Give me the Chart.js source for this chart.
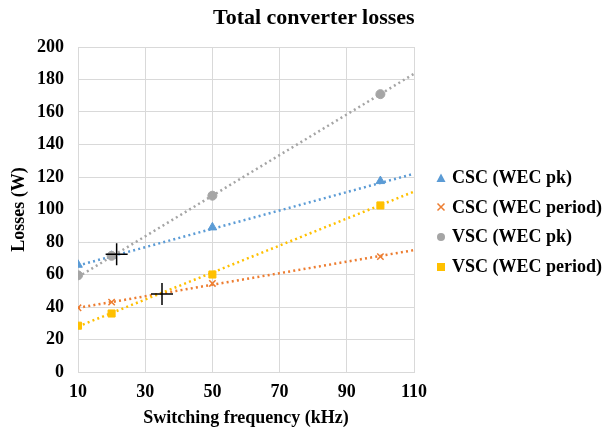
<!DOCTYPE html>
<html><head><meta charset="utf-8">
<script src="https://cdn.jsdelivr.net/npm/chart.js@4/dist/chart.umd.min.js"></script>
<style>
html,body{margin:0;padding:0;background:#fff;}
#wrap{position:relative;width:607px;height:433px;overflow:hidden;}
canvas{position:absolute;left:0;top:0;}
#title{position:absolute;left:213px;width:200px;top:4px;text-align:center;white-space:nowrap;font-family:"Liberation Serif","Times New Roman",serif;font-weight:bold;font-size:22px;color:#000;line-height:26px;}
#legend{position:absolute;left:436px;top:163px;font-family:"Liberation Serif","Times New Roman",serif;font-weight:bold;font-size:18px;color:#000;}
.li{height:29.6px;display:flex;align-items:center;white-space:nowrap;}
.li svg{margin-right:6px;}
</style></head>
<body><div id="wrap"><canvas id="c" width="607" height="433"></canvas><div id="title">Total converter losses</div><div id="legend"></div></div>
<script>
const freq = [10, 20, 50, 100];
const cscPk = [66, 71.5, 89, 117.5];
const cscPeriod = [39.5, 43, 54.5, 71];
const vscPk = [59.5, 71.5, 108.5, 171];
const vscPeriod = [28.5, 36, 60, 102.5];
const trendX = [10, 110];
const cscPkTrend = [65.5, 122];
const cscPeriodTrend = [39.5, 75];
const vscPkTrend = [58.5, 183.5];
const vscPeriodTrend = [28, 111];
const crossX = [21.5, 35];
const crossY = [72.5, 48];
const seriesNames = ["CSC (WEC pk)", "CSC (WEC period)", "VSC (WEC pk)", "VSC (WEC period)"];
const xTicks = [10, 30, 50, 70, 90, 110];

const colors = ["#5B9BD5", "#ED7D31", "#A5A5A5", "#FFC000"];
const styles = ["triangle", "crossRot", "circle", "rect"];
const radii = [5, 4.5, 4.5, 5];
const vals = [cscPk, cscPeriod, vscPk, vscPeriod];
const trends = [cscPkTrend, cscPeriodTrend, vscPkTrend, vscPeriodTrend];
const pts = (xs, ys) => xs.map((x, i) => ({x: x, y: ys[i]}));

const datasets = [];
trends.forEach((t, i) => datasets.push({
  type: 'line', data: pts(trendX, t), borderColor: colors[i], borderWidth: 2.5,
  borderDash: [2, 3.2], pointRadius: 0, fill: false, order: 10 - i
}));
vals.forEach((v, i) => datasets.push({
  type: 'scatter', label: seriesNames[i], data: pts(freq, v), pointStyle: styles[i],
  pointRadius: radii[i], backgroundColor: colors[i], borderColor: colors[i],
  borderWidth: i === 1 ? 1.5 : 1, order: 5 - i
}));
datasets.push({
  type: 'scatter', data: pts(crossX, crossY), pointStyle: 'cross', pointRadius: 11,
  borderColor: '#000', borderWidth: 1.5, order: 0
});

const F = "'Liberation Serif','Times New Roman',serif";
new Chart(document.getElementById('c'), {
  data: {datasets},
  options: {
    responsive: false, animation: false,
    layout: {padding: {left: 0, right: 193, top: 47, bottom: 0}},
    plugins: {legend: {display: false}, tooltip: {enabled: false}},
    scales: {
      x: {type: 'linear', min: 10, max: 110,
        afterBuildTicks: s => { s.ticks = xTicks.map(v => ({value: v})); },
        afterFit: s => { s.height = 61; },
        grid: {color: '#d9d9d9', drawTicks: false}, border: {color: '#d9d9d9'},
        ticks: {color: '#000', font: {family: F, size: 18, weight: 'bold'}, padding: 10, maxRotation: 0},
        title: {display: true, text: 'Switching frequency (kHz)', color: '#000',
          font: {family: F, size: 18, weight: 'bold'}, padding: {top: 0, bottom: 4}}
      },
      y: {min: 0, max: 200,
        afterFit: s => { s.width = 78; },
        ticks: {stepSize: 20, color: '#000', font: {family: F, size: 18, weight: 'bold'}, padding: 14},
        grid: {color: '#d9d9d9', drawTicks: false}, border: {color: '#d9d9d9'},
        title: {display: true, text: 'Losses (W)', color: '#000',
          font: {family: F, size: 18, weight: 'bold'}, padding: {top: 9, bottom: 0}}
      }
    }
  }
});

const leg = document.getElementById('legend');
const svgs = [
  '<svg width="10" height="10"><polygon points="5,0.5 9.5,9 0.5,9" fill="#5B9BD5"/></svg>',
  '<svg width="10" height="10"><path d="M1.5,1.5L8.5,8.5M8.5,1.5L1.5,8.5" stroke="#ED7D31" stroke-width="1.5"/></svg>',
  '<svg width="10" height="10"><circle cx="5" cy="5" r="4" fill="#A5A5A5"/></svg>',
  '<svg width="10" height="10"><rect x="1" y="1" width="8" height="8" fill="#FFC000"/></svg>'
];
seriesNames.forEach((n, i) => {
  const d = document.createElement('div'); d.className = 'li';
  d.innerHTML = svgs[i] + '<span>' + n + '</span>';
  leg.appendChild(d);
});
</script></body></html>
